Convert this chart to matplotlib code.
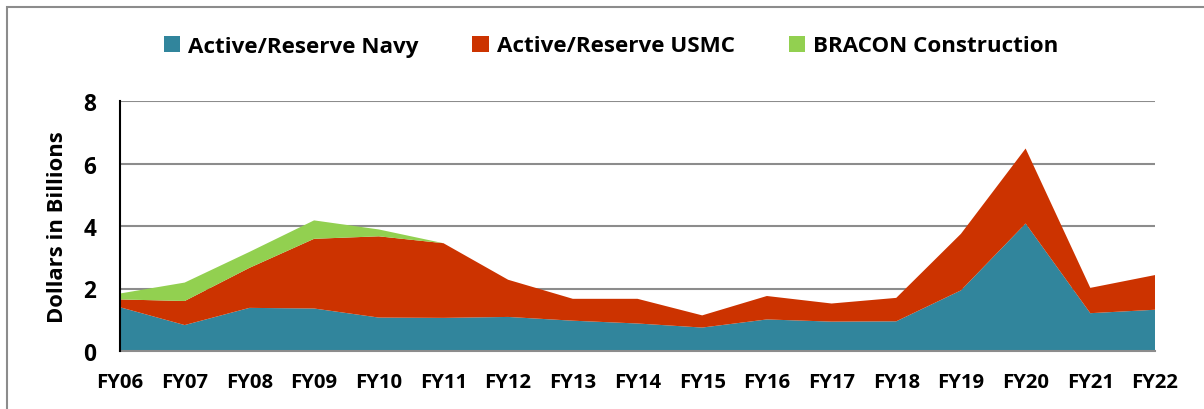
import matplotlib
matplotlib.use("Agg")
import matplotlib.pyplot as plt
from matplotlib.patches import Rectangle, Patch
from matplotlib.font_manager import FontProperties

years = ["FY06", "FY07", "FY08", "FY09", "FY10", "FY11", "FY12", "FY13", "FY14",
         "FY15", "FY16", "FY17", "FY18", "FY19", "FY20", "FY21", "FY22"]
navy = [1.40, 0.83, 1.38, 1.36, 1.07, 1.06, 1.09, 0.97, 0.88,
        0.75, 1.01, 0.94, 0.95, 1.94, 4.08, 1.21, 1.32]
usmc = [0.25, 0.77, 1.28, 2.23, 2.60, 2.39, 1.19, 0.70, 0.79,
        0.39, 0.75, 0.58, 0.75, 1.81, 2.40, 0.81, 1.11]
bracon = [0.19, 0.59, 0.51, 0.59, 0.22, 0.0, 0.0, 0.0, 0.0,
          0.0, 0.0, 0.0, 0.0, 0.0, 0.0, 0.0, 0.0]
series_names = ["Active/Reserve Navy", "Active/Reserve USMC", "BRACON Construction"]
colors = ["#31859C", "#CC3300", "#92D050"]

FAM = ['Open Sans', 'DejaVu Sans']
plt.rcParams['font.family'] = FAM
W, H = 1204, 410
fig = plt.figure(figsize=(W / 100, H / 100), dpi=100)
renderer = fig.canvas.get_renderer()


def fit_size(text, target_px, weight="bold"):
    t = fig.text(0, 0, text, fontsize=10, fontweight=weight, family=FAM)
    w = t.get_window_extent(renderer=renderer).width
    t.remove()
    return 10 * target_px / w


ax = fig.add_axes([120 / W, 1 - 352 / H, (1155 - 120) / W, (352 - 102) / H])

x = list(range(len(years)))
ax.stackplot(x, navy, usmc, bracon, colors=colors, linewidth=0)

xt_size = fit_size("FY06", 47)
yt_size = fit_size("8", 13)
yl_size = fit_size("Dollars in Billions", 192)
lg_size = fit_size("Active/Reserve Navy", 230)

ax.set_xlim(0, len(years) - 1)
ax.set_ylim(0, 8)
ax.set_yticks([0, 2, 4, 6, 8])
ax.set_xticks(x)
ax.set_xticklabels(years)
ax.yaxis.grid(True, color="#8C8C8C", linewidth=1.5)
ax.set_axisbelow(True)
ax.tick_params(axis="both", length=0)
ax.tick_params(axis="x", pad=15, labelsize=xt_size)
ax.tick_params(axis="y", pad=17, labelsize=yt_size)
for lab in ax.get_xticklabels() + ax.get_yticklabels():
    lab.set_fontweight("bold")
for s in ["top", "right"]:
    ax.spines[s].set_visible(False)
ax.spines["left"].set_color("black")
ax.spines["left"].set_linewidth(1.5)
ax.spines["left"].set_zorder(5)
ax.spines["bottom"].set_color("#8C8C8C")
ax.spines["bottom"].set_linewidth(1.5)
ax.set_ylabel("Dollars in Billions", fontsize=yl_size, fontweight="bold")
ax.yaxis.label.set_va("center")
ax.yaxis.set_label_coords((58 - 120) / (1155 - 120), 0.5)

handles = [Patch(facecolor=c, edgecolor="none") for c in colors]
leg = fig.legend(handles, series_names, loc="center", bbox_to_anchor=(611 / W, 1 - 47 / H),
                 ncol=3, frameon=False, handlelength=0.75, handleheight=0.75,
                 handletextpad=0.35, columnspacing=2.4,
                 prop=FontProperties(family=FAM, weight="bold", size=lg_size))

fig.patches.append(Rectangle((7 / W, -0.2), 1.2, 1 - 8 / H + 0.2, transform=fig.transFigure,
                             fill=False, edgecolor="#8C8C8C", linewidth=1.5))

fig.savefig("out.png", dpi=100)
